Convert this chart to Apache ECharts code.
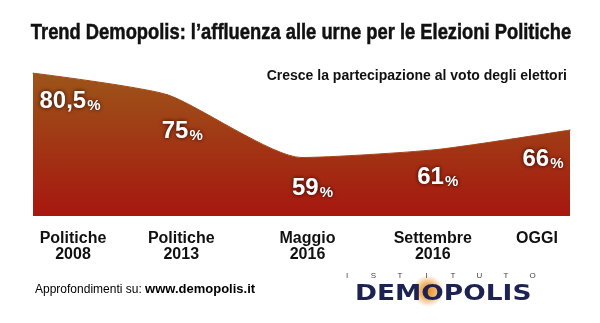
<!DOCTYPE html>
<html>
<head>
<meta charset="utf-8">
<script src="https://cdn.jsdelivr.net/npm/echarts@6/dist/echarts.min.js"></script>
<style>
html,body{margin:0;padding:0;background:#fff;}
#c{width:600px;height:323px;}
</style>
</head>
<body>
<div id="c"></div>
<script>
var categories = ['Politiche\n2008', 'Politiche\n2013', 'Maggio\n2016', 'Settembre\n2016', 'OGGI'];
var values = [80.5, 75, 59, 61, 66];
var titleText = 'Trend Demopolis: l\u2019affluenza alle urne per le Elezioni Politiche';
var subtitleText = 'Cresce la partecipazione al voto degli elettori';

// label placement tweaks (code, not data)
var labelOffsets = [[37, 27], [15, 36], [11, 30], [2, 27], [-27, 28]];
var axisShift = [40, 14, 6, -3, -33];

var chart = echarts.init(document.getElementById('c'), null, {renderer: 'canvas'});

var axisRich = {};
axisShift.forEach(function (s, i) {
  axisRich['a' + i] = {
    fontFamily: 'Liberation Sans', fontWeight: 'bold', fontSize: 16, color: '#111',
    lineHeight: 16,
    padding: s >= 0 ? [0, 0, 0, 2 * s] : [0, -2 * s, 0, 0]
  };
});

var fmtNum = function (v) { return String(v).replace('.', ','); };

var logoLetters = 'ISTITUTO'.split('');
var graphics = [
  {
    type: 'text', x: 301, y: 33, scaleX: 0.834,
    style: {
      text: titleText, font: 'bold 22px "Liberation Sans"', fill: '#111',
      textAlign: 'center', textVerticalAlign: 'middle',
      stroke: '#111', lineWidth: 0.5,
      shadowColor: 'rgba(170,130,40,0.7)', shadowOffsetX: 1, shadowOffsetY: 1, shadowBlur: 1
    }
  },
  {
    type: 'text', x: 567, y: 76,
    style: {text: subtitleText, font: 'bold 14px "Liberation Sans"', fill: '#111', textAlign: 'right', textVerticalAlign: 'middle'}
  },
  {
    type: 'text', left: 35, top: 283,
    style: {
      text: '{a|Approfondimenti su: }{b|www.demopolis.it}',
      rich: {
        a: {fontFamily: 'Liberation Sans', fontSize: 12, color: '#111'},
        b: {fontFamily: 'Liberation Sans', fontWeight: 'bold', fontSize: 13, color: '#1f2e7a'}
      }
    }
  },
  {
    type: 'circle', shape: {cx: 428, cy: 291, r: 16},
    style: {
      fill: {type: 'radial', x: 0.5, y: 0.5, r: 0.5, colorStops: [
        {offset: 0, color: 'rgba(235,140,30,1)'},
        {offset: 0.5, color: 'rgba(235,150,50,0.7)'},
        {offset: 1, color: 'rgba(240,170,80,0)'}
      ]}
    }
  },
  {
    type: 'text', x: 355, y: 284, scaleX: 1.26,
    style: {text: 'DEMOPOLIS', font: 'bold 21px "DejaVu Sans"', fill: '#1c2352', textVerticalAlign: 'top'}
  }
];
logoLetters.forEach(function (ch, i) {
  graphics.push({
    type: 'text', x: 347 + i * 26.5, y: 276,
    style: {text: ch, font: '8px "Liberation Sans"', fill: '#444', textAlign: 'center', textVerticalAlign: 'middle'}
  });
});

var labelRichBase = {
  fontFamily: 'Liberation Sans', fontWeight: 'bold', color: '#ffffff', opacity: 1,
  textShadowColor: 'rgba(30,0,0,0.95)', textShadowBlur: 4, verticalAlign: 'bottom'
};

var option = {
  animation: false,
  backgroundColor: '#fff',
  grid: {left: 33, right: 30, top: 70, height: 146, containLabel: false, outerBoundsMode: 'none'},
  xAxis: {
    type: 'category', data: categories, boundaryGap: false,
    axisLine: {show: false}, axisTick: {show: false}, splitLine: {show: false},
    axisLabel: {
      interval: 0, margin: 15, verticalAlign: 'top', hideOverlap: false,
      formatter: function (v, i) {
        return v.split('\n').map(function (line) { return '{a' + i + '|' + line + '}'; }).join('\n');
      },
      rich: axisRich
    }
  },
  yAxis: {
    type: 'value', min: 44.1, max: 81.3, show: false, splitLine: {show: false}
  },
  series: [
    {
      type: 'line', data: values, smooth: 0.2, symbol: 'none',
      lineStyle: {color: '#a4461a', width: 1},
      areaStyle: {
        opacity: 1,
        color: {type: 'linear', x: 0, y: 0, x2: 0, y2: 1, colorStops: [
          {offset: 0, color: '#9c5519'},
          {offset: 1, color: '#a7170f'}
        ]}
      }
    },
    {
      type: 'scatter', symbolSize: 1,
      itemStyle: {color: '#a33a14', opacity: 1},
      label: {
        show: true, position: 'inside', color: '#ffffff', opacity: 1,
        formatter: function (p) { return '{n|' + fmtNum(p.value) + '}{p|%}'; },
        rich: {
          n: Object.assign({}, labelRichBase, {fontSize: 24, lineHeight: 26}),
          p: Object.assign({}, labelRichBase, {fontSize: 15, lineHeight: 20, padding: [0, 0, 0, 1]})
        }
      },
      emphasis: {disabled: true},
      data: values.map(function (v, i) {
        return {value: v, label: {offset: labelOffsets[i]}};
      }),
      z: 5
    }
  ],
  graphic: graphics
};

chart.setOption(option);
</script>
</body>
</html>
